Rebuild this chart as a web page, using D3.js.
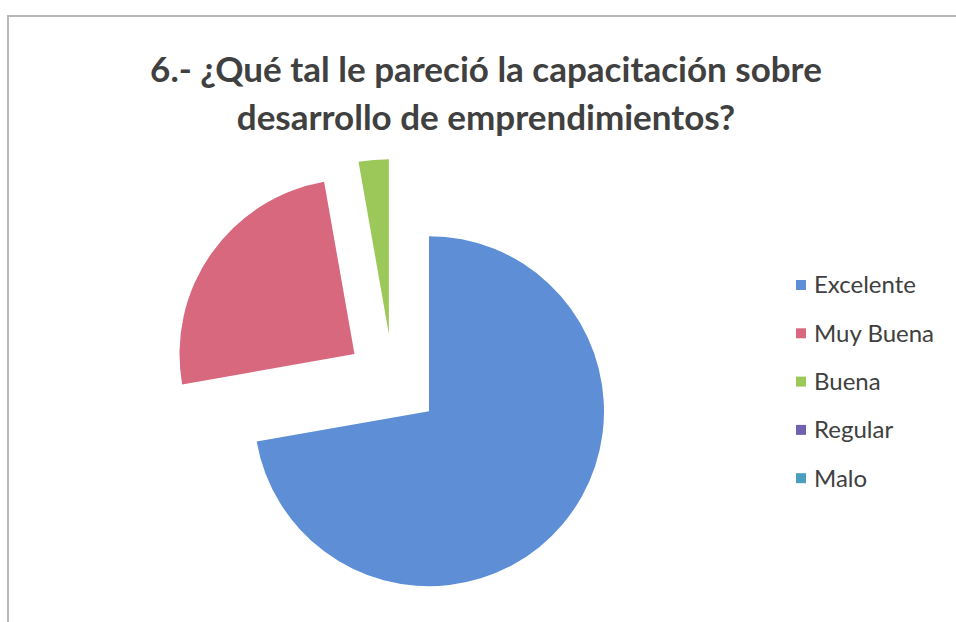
<!DOCTYPE html>
<html><head><meta charset="utf-8">
<script src="https://cdn.jsdelivr.net/npm/d3@7"></script>
<style>body{margin:0;background:#fff}svg{display:block}</style>
</head><body>
<svg id="c" width="956" height="622"></svg>
<script>
const categories = ["Excelente", "Muy Buena", "Buena", "Regular", "Malo"];
const values = [26, 9, 1, 0, 0];
const colors = ["#5E8FD6", "#D8687E", "#9CC85A", "#7060B0", "#4A9EC0"];
const titleLines = ["6.- ¿Qué tal le pareció la capacitación sobre", "desarrollo de emprendimientos?"];

const svg = d3.select("#c");
// frame
svg.append("path").attr("d", "M8,622 L8,16 L956,16").attr("fill", "none")
  .attr("stroke", "#b8b8b8").attr("stroke-width", 2);

// title
const title = svg.append("g");
titleLines.forEach((t, i) => {
  title.append("text").attr("x", 486).attr("y", 82 + i * 48)
    .attr("text-anchor", "middle").attr("font-family", "Lato, 'Open Sans', sans-serif")
    .attr("font-weight", "bold").attr("font-size", 35).attr("fill", "#404040").text(t);
});

// pie
const cx = 393, cy = 381, r = 175, explode = 47;
const data = categories.map((c, i) => ({ name: c, value: values[i], color: colors[i] }));
const pie = d3.pie().value(d => d.value).sort(null).startAngle(0).endAngle(2 * Math.PI);
const arc = d3.arc().innerRadius(0).outerRadius(r);
const g = svg.append("g").attr("transform", `translate(${cx},${cy})`);
g.selectAll("path").data(pie(data).filter(d => d.data.value > 0)).join("path")
  .attr("d", arc)
  .attr("fill", d => d.data.color)
  .attr("transform", d => {
    const a = (d.startAngle + d.endAngle) / 2;
    return `translate(${explode * Math.sin(a)},${-explode * Math.cos(a)})`;
  });

// legend
const leg = svg.append("g").attr("transform", "translate(796,285)");
const items = leg.selectAll("g").data(data).join("g")
  .attr("transform", (d, i) => `translate(0,${i * 48.3})`);
items.append("rect").attr("x", 0).attr("y", -5).attr("width", 10).attr("height", 10)
  .attr("fill", d => d.color);
items.append("text").attr("x", 18).attr("y", 0).attr("dy", "0.35em")
  .attr("font-family", "Lato, 'Open Sans', sans-serif").attr("font-size", 24)
  .attr("fill", "#404040").text(d => d.name);
</script>
</body></html>
